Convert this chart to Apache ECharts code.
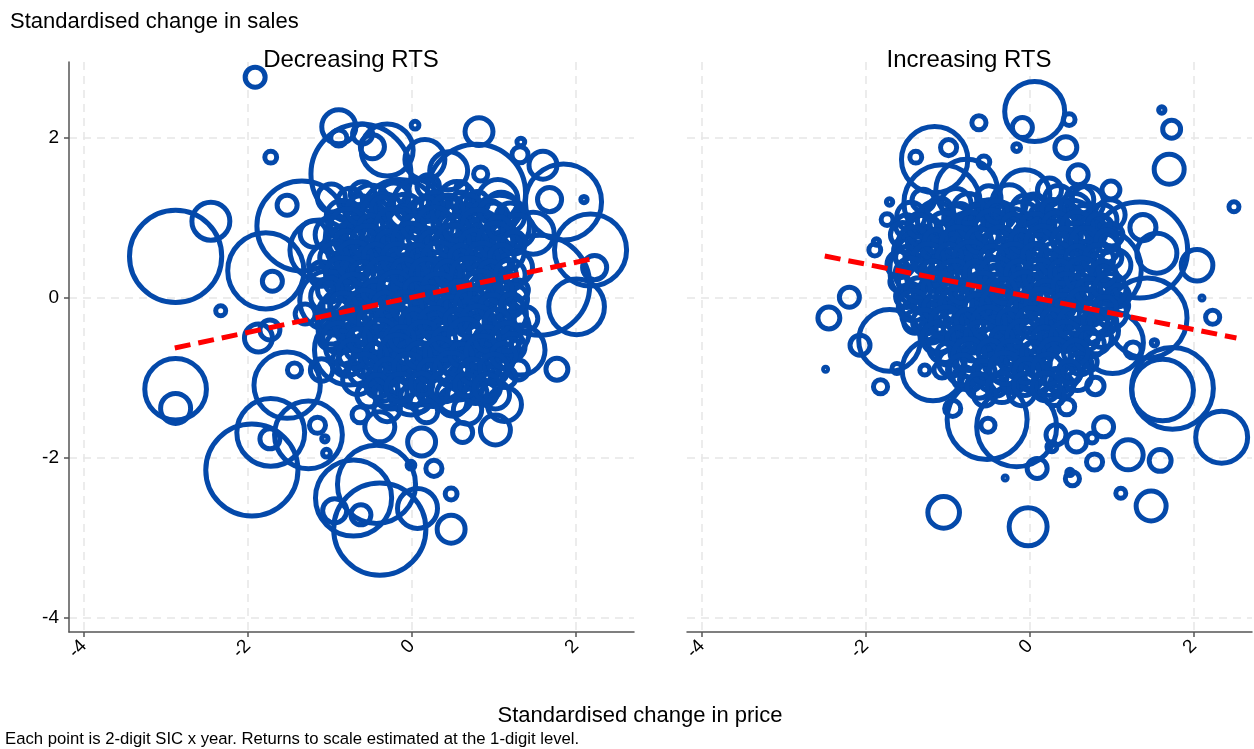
<!DOCTYPE html>
<html><head><meta charset="utf-8">
<script src="https://cdn.jsdelivr.net/npm/echarts@6/dist/echarts.min.js"></script>
<style>html,body{margin:0;padding:0;background:#fff}#c{width:1254px;height:749px}</style>
</head><body><div id="c"></div>
<script>
// tick values shared by both axes
const tickValues = [-4, -2, 0, 2];
const panelTitles = ['Decreasing RTS', 'Increasing RTS'];
const yTitle = 'Standardised change in sales';
const xTitle = 'Standardised change in price';
const footnote = 'Each point is 2-digit SIC x year. Returns to scale estimated at the 1-digit level.';

// [price change, sales change, weight] - Decreasing RTS industries
const decreasing = [
[-1.91,2.76,4],[-1.72,1.76,1.4],[-2.45,0.96,14.4],[-2.88,0.52,85],[-2.33,-0.16,1],
[-2.88,-1.14,38],[-2.88,-1.38,9],[-1.95,-2.15,85],[-1.72,-1.68,46],[-1.26,-1.71,46],
[-1.52,-1.09,44],[-1.73,-1.76,4],[-1.15,-1.59,2.6],[-1.06,-1.76,0.4],[-1.04,-1.94,0.6],
[-0.71,-2.5,58],[-0.39,-2.89,85],[-0.43,-2.33,61],[-0.94,-2.66,5.8],[-0.62,-2.71,4],
[0.07,-2.63,16],[0.48,-2.89,7.8],[0.48,-2.45,1.4],[0.27,-2.13,2.6],[-0.01,-2.09,0.6],
[0.12,-1.8,7.8],[-0.39,-1.61,9],[-0.63,-1.46,2.6],[0.62,-1.68,4],[1.02,-1.65,9],
[1.13,-1.33,11.6],[1.77,-0.89,4.8],[1.39,-0.26,5.8],[2.01,-0.11,31],[-0.34,-1.11,7.8],
[-0.01,-1.2,17.6],[-1.43,-0.9,2],[-1.87,-0.5,7.8],[-1.73,-0.4,4],[-0.89,2.14,11.6],
[-0.89,2.0,2.6],[-0.6,2.05,4],[-0.48,1.89,5.8],[-0.3,1.85,27],[0.04,2.16,0.6],
[0.16,1.73,16],[0.82,2.08,7.8],[1.33,1.95,0.6],[1.32,1.79,2.6],[-1.78,0.34,58],
[-1.34,0.9,81],[-0.62,1.55,100],[0.79,1.31,96],[1.85,1.2,58],[2.18,0.6,52],
[1.68,1.23,5.8],[2.1,1.23,0.4],[0.61,1.38,1.4],[0.84,1.55,2],[0.59,1.08,0.4],
[2.23,0.38,5.8],[-1.7,0.21,4],[-1.52,1.16,4],[-0.98,1.25,7.8],[0.45,1.59,14.4],
[1.09,1.11,11.6],[1.48,0.81,17.6],[1.6,1.66,7.8],[1.07,0.91,36],[1.56,0.16,100],
[0.71,-0.15,81],[1.07,-0.4,36],[1.32,-0.65,25],[0.52,-0.78,64],[0.1,-0.9,49],
[-0.76,-0.65,49],[-1.0,-0.03,36],[-1.12,0.6,36],[-0.63,0.73,49],[-0.15,0.98,64],
[0.34,0.6,81],[-0.27,0.1,81],[0.22,-0.28,64],[-0.39,-0.4,36],[0.59,0.23,36],
[0.1,0.23,25],
[-0.9,0.9,4],[-0.7,0.5,6],[-0.5,1.1,3],[-0.3,0.7,9],[-0.1,0.4,5],[0.1,0.9,7],
[0.3,1.1,4],[0.5,0.7,10],[0.7,0.9,3],[0.9,0.5,6],[1.1,0.3,8],[1.2,0.7,4],
[-1.1,0.3,6],[-0.9,-0.1,9],[-0.7,0.1,3],[-0.5,-0.3,7],[-0.3,0.2,4],[-0.1,-0.1,12],
[0.1,0.2,5],[0.3,-0.1,8],[0.5,0.3,3],[0.7,-0.3,9],[0.9,0.0,5],[1.1,-0.2,6],
[1.3,0.1,4],[-1.0,-0.5,5],[-0.8,-0.8,8],[-0.6,-0.6,4],[-0.4,-0.9,10],[-0.2,-0.6,3],
[0.0,-0.8,6],[0.2,-0.5,9],[0.4,-0.7,4],[0.6,-1.0,7],[0.8,-0.7,5],[1.0,-0.9,8],
[1.2,-0.6,3],[-0.6,1.3,6],[-0.2,1.3,8],[0.2,1.4,5],[0.6,1.2,4],[1.0,1.0,9],
[-1.2,0.8,7],[-1.3,-0.2,4],[-1.1,-0.9,5],[-0.3,-1.2,6],[0.1,-1.3,4],[0.5,-1.3,8],
[0.9,-1.2,5],[1.3,-0.9,4],[-0.8,0.7,12],[0.0,0.6,15],[0.6,-0.1,14],[-0.4,-0.1,16],
[0.2,-0.3,18],[0.8,0.4,16],[-0.6,0.3,20],[0.4,0.5,20],[0.0,0.0,25],[-0.2,-0.4,20]
];
// the dense cloud in the middle of the Decreasing RTS panel
const decreasingCore = [
[-0.75,1.22,6],[-0.5,1.18,14],[-0.22,1.25,9],[0.05,1.2,20],[0.28,1.16,7],[0.55,1.24,12],[0.8,1.19,5],[1.05,1.23,16],
[-0.85,1.02,10],[-0.6,0.98,4],[-0.35,1.04,18],[-0.1,0.97,8],[0.15,1.03,12],[0.42,0.96,22],[0.66,1.02,6],[0.92,0.99,13],[1.2,1.01,8],
[-0.95,0.79,14],[-0.68,0.83,7],[-0.42,0.77,11],[-0.18,0.82,24],[0.08,0.78,5],[0.33,0.81,15],[0.58,0.76,9],[0.83,0.82,19],[1.12,0.78,6],[1.3,0.84,10],
[-0.88,0.58,6],[-0.62,0.62,16],[-0.38,0.57,5],[-0.12,0.61,11],[0.14,0.56,26],[0.4,0.63,8],[0.64,0.58,14],[0.9,0.61,4],[1.16,0.57,12],
[-1.0,0.42,18],[-0.74,0.38,9],[-0.48,0.43,13],[-0.24,0.37,6],[0.02,0.41,17],[0.27,0.38,10],[0.52,0.44,4],[0.77,0.39,21],[1.03,0.42,7],[1.27,0.38,11],
[-0.92,0.19,5],[-0.66,0.22,20],[-0.4,0.18,8],[-0.15,0.23,14],[0.12,0.17,6],[0.37,0.21,19],[0.62,0.18,9],[0.88,0.22,12],[1.14,0.19,5],
[-1.05,0.02,9],[-0.78,-0.02,13],[-0.52,0.03,5],[-0.27,-0.01,22],[0.0,0.03,8],[0.24,-0.02,12],[0.49,0.01,16],[0.75,-0.03,6],[1.0,0.02,18],[1.24,-0.01,8],
[-0.9,-0.21,17],[-0.64,-0.18,6],[-0.38,-0.22,10],[-0.12,-0.17,15],[0.13,-0.23,4],[0.38,-0.19,20],[0.64,-0.22,8],[0.9,-0.18,11],[1.17,-0.21,14],
[-0.98,-0.41,7],[-0.72,-0.38,12],[-0.46,-0.43,19],[-0.2,-0.39,5],[0.05,-0.42,13],[0.31,-0.37,8],[0.57,-0.42,17],[0.83,-0.38,6],[1.09,-0.41,10],
[-0.85,-0.62,11],[-0.58,-0.58,16],[-0.32,-0.61,7],[-0.06,-0.57,21],[0.2,-0.62,9],[0.46,-0.59,13],[0.72,-0.63,5],[0.98,-0.58,15],[1.22,-0.61,7],
[-0.76,-0.81,6],[-0.5,-0.78,14],[-0.24,-0.83,9],[0.02,-0.79,17],[0.28,-0.82,5],[0.54,-0.77,12],[0.8,-0.82,19],[1.06,-0.79,8],
[-0.66,-1.02,9],[-0.4,-0.98,5],[-0.14,-1.03,13],[0.12,-0.97,7],[0.38,-1.02,16],[0.64,-0.98,6],[0.9,-1.03,11],[1.15,-0.99,4],
[-0.52,-1.21,6],[-0.26,-1.18,11],[0.0,-1.23,5],[0.26,-1.17,9],[0.52,-1.22,13],[0.78,-1.18,5],[1.02,-1.21,8],
[-0.3,-1.38,7],[0.18,-1.42,5],[0.68,-1.4,8],
[-0.62,1.1,8],[-0.36,1.12,5],[-0.08,1.08,12],[0.18,1.11,6],[0.44,1.09,10],[0.7,1.12,7],[0.96,1.08,5],
[-0.78,0.9,12],[-0.5,0.88,6],[-0.24,0.92,10],[0.02,0.89,5],[0.28,0.91,13],[0.54,0.87,6],[0.8,0.92,9],[1.06,0.88,5],
[-0.8,0.7,5],[-0.54,0.71,10],[-0.28,0.68,6],[-0.02,0.72,12],[0.24,0.69,5],[0.5,0.71,11],[0.76,0.68,7],[1.02,0.72,12],[1.25,0.69,5],
[-0.95,0.5,8],[-0.7,0.48,13],[-0.44,0.52,6],[-0.18,0.49,9],[0.08,0.51,6],[0.34,0.48,12],[0.6,0.52,5],[0.86,0.49,10],[1.1,0.51,6],
[-0.85,0.3,11],[-0.6,0.31,5],[-0.34,0.28,12],[-0.08,0.32,7],[0.18,0.29,10],[0.44,0.31,6],[0.7,0.28,13],[0.96,0.32,5],[1.2,0.29,9],
[-1.0,0.1,6],[-0.72,0.11,9],[-0.46,0.08,5],[-0.2,0.12,11],[0.06,0.09,6],[0.32,0.11,10],[0.58,0.08,5],[0.84,0.12,12],[1.08,0.09,6],
[-0.84,-0.1,7],[-0.58,-0.12,12],[-0.32,-0.08,6],[-0.06,-0.11,9],[0.2,-0.09,13],[0.46,-0.12,5],[0.72,-0.08,10],[0.98,-0.11,6],[1.22,-0.09,5],
[-1.02,-0.3,5],[-0.76,-0.31,10],[-0.5,-0.28,6],[-0.24,-0.32,12],[0.02,-0.29,6],[0.28,-0.31,9],[0.54,-0.28,5],[0.8,-0.32,12],[1.04,-0.29,6],
[-0.9,-0.5,9],[-0.64,-0.52,5],[-0.38,-0.48,11],[-0.12,-0.51,6],[0.14,-0.49,10],[0.4,-0.52,5],[0.66,-0.48,12],[0.92,-0.51,6],[1.16,-0.49,8],
[-0.72,-0.7,8],[-0.44,-0.71,5],[-0.18,-0.68,12],[0.08,-0.72,6],[0.34,-0.69,9],[0.6,-0.71,5],[0.86,-0.68,11],[1.12,-0.72,6],
[-0.58,-0.9,10],[-0.3,-0.92,6],[-0.04,-0.88,9],[0.22,-0.91,5],[0.48,-0.89,11],[0.74,-0.92,6],[1.0,-0.88,8],
[-0.42,-1.1,5],[-0.14,-1.12,8],[0.12,-1.08,5],[0.4,-1.11,9],[0.66,-1.09,5],[0.92,-1.12,7]
];

// [price change, sales change, weight] - Increasing RTS industries
const increasing = [
[0.06,2.33,36],[-0.09,2.13,4],[-0.16,1.88,0.6],[0.48,2.23,1.4],[0.44,1.88,4.8],
[-0.62,2.19,2],[1.61,2.35,0.4],[1.73,2.11,3.2],[1.7,1.61,9],[2.49,1.14,1],
[-1.16,1.73,44],[-1.39,1.76,1.4],[-0.99,1.88,2.6],[-0.56,1.7,1.4],[-1.07,1.19,58],
[-0.77,1.35,38],[-0.06,1.29,25],[0.59,1.54,4],[0.99,1.35,3.2],[-0.71,1.08,1],
[-1.32,0.88,9],[-1.74,0.98,1.4],[-1.71,1.2,0.4],[1.38,0.88,6.8],[2.04,0.41,10],
[2.1,0.0,0.16],[1.55,0.56,16],[1.34,0.6,92],[-2.2,0.01,4],[-2.45,-0.25,4.8],
[-1.89,0.6,1.4],[-1.87,0.7,0.4],[-2.49,-0.89,0.16],[-2.07,-0.59,4],[-1.82,-1.11,2],
[-1.71,-0.53,38],[-1.62,-0.88,1],[-1.18,-0.9,38],[-1.28,-0.9,1],[-1.07,-0.9,2.6],
[-0.94,-1.38,2.6],[-0.51,-1.59,2],[-0.52,-1.52,64],[-0.16,-1.61,64],[0.09,-2.13,4],
[-0.3,-2.25,0.16],[0.45,-1.36,2.6],[0.52,-0.96,2.6],[0.32,-1.71,4],[0.27,-1.86,1],
[0.57,-1.8,4],[0.76,-1.75,1],[0.9,-1.61,4],[0.79,-2.05,2.6],[0.52,-2.26,2],
[0.49,-2.18,0.4],[1.2,-1.96,9],[1.59,-2.03,4.8],[1.11,-2.44,1],[1.48,-2.6,9],
[-1.05,-2.68,10],[-0.02,-2.86,14.4],[1.62,-1.15,38],[1.74,-1.13,67],[2.34,-1.74,27],
[2.23,-0.24,2],[1.52,-0.56,0.4],[1.26,-0.65,2.6],[1.43,-0.25,64],[1.01,-0.56,38],
[-0.37,0.48,81],[0.24,0.6,64],[-0.85,-0.03,64],[-0.12,-0.28,81],[0.61,-0.15,49],
[0.49,0.85,36],[-0.49,0.85,36],[-1.22,0.35,64],[0.24,-0.78,49],[-0.61,-0.65,36],
[0.85,0.35,70],[0.98,1.04,9],[0.24,1.35,5.8],[0.61,1.23,7.8],
[-1.4,0.5,4],[-1.2,0.1,6],[-1.0,0.6,3],[-0.8,0.3,8],[-0.6,0.9,5],[-0.4,0.2,9],
[-0.2,0.7,4],[0.0,0.4,7],[0.2,0.9,3],[0.4,0.3,10],[0.6,0.7,5],[0.8,0.1,6],
[1.0,0.5,4],[-1.4,-0.3,5],[-1.1,-0.5,8],[-0.9,-0.2,4],[-0.7,-0.6,9],[-0.5,-0.1,5],
[-0.3,-0.6,7],[-0.1,-0.2,4],[0.1,-0.7,8],[0.3,-0.2,5],[0.5,-0.5,6],[0.7,-0.8,4],
[0.9,-0.3,7],[1.1,-0.1,3],[-0.9,1.0,6],[-0.5,1.1,4],[0.1,1.1,7],[0.5,1.0,5],
[0.9,0.9,3],[-1.5,0.9,5],[-1.6,0.2,3],[-0.8,-1.0,5],[-0.4,-1.1,4],[0.0,-1.0,6],
[0.4,-1.1,5],[0.8,-1.1,3],[-0.7,0.0,12],[0.2,0.1,14],[-0.3,0.4,16],[0.6,0.4,12],
[-1.0,0.3,14],[0.0,-0.5,16],[-0.5,-0.4,12],[0.5,-0.3,14],[-0.2,0.9,12],[-1.3,0.7,10],
[0.8,-0.5,10]
];
// the dense cloud in the middle of the Increasing RTS panel
const increasingCore = [
[-1.3,1.22,5],[-0.9,1.18,9],[-0.5,1.25,6],[-0.25,1.2,12],[0.05,1.16,5],[0.35,1.23,8],[0.7,1.19,11],
[-1.45,1.02,8],[-1.15,0.98,13],[-0.85,1.04,5],[-0.6,0.97,10],[-0.35,1.03,7],[-0.1,0.96,15],[0.15,1.02,6],[0.4,0.99,12],[0.65,1.03,4],[0.88,0.98,9],
[-1.55,0.79,6],[-1.28,0.83,11],[-1.02,0.77,7],[-0.76,0.82,16],[-0.52,0.78,5],[-0.27,0.81,12],[-0.02,0.76,8],[0.23,0.82,14],[0.48,0.78,6],[0.74,0.83,10],[1.0,0.79,5],
[-1.45,0.58,12],[-1.18,0.62,5],[-0.92,0.57,14],[-0.66,0.61,7],[-0.4,0.56,18],[-0.14,0.63,6],[0.12,0.58,11],[0.38,0.61,16],[0.64,0.57,5],[0.9,0.62,9],
[-1.58,0.42,7],[-1.3,0.38,14],[-1.04,0.43,6],[-0.78,0.37,10],[-0.52,0.41,15],[-0.26,0.38,5],[0.0,0.44,12],[0.26,0.39,7],[0.52,0.42,17],[0.78,0.38,6],[1.04,0.41,10],
[-1.42,0.19,9],[-1.16,0.22,5],[-0.9,0.18,12],[-0.64,0.23,8],[-0.38,0.17,16],[-0.12,0.21,6],[0.14,0.18,13],[0.4,0.22,5],[0.66,0.19,11],[0.92,0.23,7],
[-1.5,0.02,5],[-1.24,-0.02,10],[-0.98,0.03,6],[-0.72,-0.01,15],[-0.46,0.03,9],[-0.2,-0.02,18],[0.06,0.01,6],[0.32,-0.03,12],[0.58,0.02,7],[0.84,-0.01,14],[1.08,0.03,5],
[-1.35,-0.21,12],[-1.08,-0.18,7],[-0.82,-0.22,13],[-0.56,-0.17,5],[-0.3,-0.23,11],[-0.04,-0.19,16],[0.22,-0.22,6],[0.48,-0.18,10],[0.74,-0.21,5],[1.0,-0.19,9],
[-1.2,-0.41,6],[-0.94,-0.38,11],[-0.68,-0.43,17],[-0.42,-0.39,6],[-0.16,-0.42,12],[0.1,-0.37,8],[0.36,-0.42,14],[0.62,-0.38,5],[0.88,-0.41,11],
[-1.05,-0.62,9],[-0.8,-0.58,5],[-0.54,-0.61,13],[-0.28,-0.57,7],[-0.02,-0.62,15],[0.24,-0.59,5],[0.5,-0.63,10],[0.76,-0.58,6],
[-0.95,-0.81,7],[-0.68,-0.78,12],[-0.42,-0.83,5],[-0.16,-0.79,10],[0.1,-0.82,6],[0.36,-0.77,13],[0.62,-0.82,5],
[-0.72,-1.02,5],[-0.46,-0.98,9],[-0.2,-1.03,6],[0.06,-0.97,11],[0.32,-1.02,5],[0.58,-0.98,8],
[-0.55,-1.21,5],[-0.1,-1.18,7],[0.3,-1.22,4],
[-1.1,1.1,6],[-0.75,1.12,9],[-0.4,1.08,5],[-0.05,1.11,8],[0.28,1.09,5],[0.55,1.12,9],
[-1.35,0.9,5],[-1.05,0.88,9],[-0.72,0.92,6],[-0.46,0.89,11],[-0.2,0.91,5],[0.06,0.87,9],[0.32,0.92,6],[0.58,0.88,10],[0.84,0.91,5],
[-1.42,0.7,9],[-1.15,0.71,5],[-0.88,0.68,11],[-0.62,0.72,6],[-0.36,0.69,10],[-0.1,0.71,5],[0.16,0.68,12],[0.42,0.72,6],[0.68,0.69,9],[0.94,0.71,5],
[-1.5,0.5,5],[-1.24,0.48,10],[-0.98,0.52,6],[-0.72,0.49,12],[-0.46,0.51,5],[-0.2,0.48,10],[0.06,0.52,6],[0.32,0.49,11],[0.58,0.51,5],[0.84,0.48,9],
[-1.45,0.3,10],[-1.18,0.31,6],[-0.92,0.28,9],[-0.66,0.32,5],[-0.4,0.29,12],[-0.14,0.31,6],[0.12,0.28,10],[0.38,0.32,5],[0.64,0.29,11],[0.9,0.31,6],
[-1.36,0.1,6],[-1.1,0.11,11],[-0.84,0.08,5],[-0.58,0.12,10],[-0.32,0.09,6],[-0.06,0.11,12],[0.2,0.08,5],[0.46,0.12,9],[0.72,0.09,6],[0.98,0.11,10],
[-1.42,-0.1,9],[-1.16,-0.12,5],[-0.9,-0.08,10],[-0.64,-0.11,6],[-0.38,-0.09,12],[-0.12,-0.12,5],[0.14,-0.08,10],[0.4,-0.11,6],[0.66,-0.09,11],[0.92,-0.12,5],
[-1.28,-0.3,6],[-1.02,-0.31,10],[-0.76,-0.28,5],[-0.5,-0.32,11],[-0.24,-0.29,6],[0.02,-0.31,9],[0.28,-0.28,5],[0.54,-0.32,10],[0.8,-0.29,6],
[-1.12,-0.5,10],[-0.86,-0.52,6],[-0.6,-0.48,9],[-0.34,-0.51,5],[-0.08,-0.49,11],[0.18,-0.52,6],[0.44,-0.48,9],[0.7,-0.51,5],
[-1.0,-0.7,5],[-0.74,-0.71,10],[-0.48,-0.68,6],[-0.22,-0.72,9],[0.04,-0.69,5],[0.3,-0.71,10],[0.56,-0.68,6],
[-0.82,-0.9,9],[-0.56,-0.92,5],[-0.3,-0.88,10],[-0.04,-0.91,6],[0.22,-0.89,9],[0.48,-0.92,5],
[-0.62,-1.1,6],[-0.34,-1.12,9],[-0.06,-1.08,5],[0.2,-1.11,8]
];

// fitted lines, endpoints [x, y]
const fitDecreasing = [[-2.89,-0.625],[2.2,0.49]];
const fitIncreasing = [[-2.5,0.525],[2.52,-0.5]];

const xRange = [-4.18, 2.71];
const yRange = [-4.175, 2.95];

const BLUE = '#0449aa';
const FONT = '"Liberation Sans", Arial, sans-serif';
const chart = echarts.init(document.getElementById('c'), null, {renderer: 'canvas'});

const gridLine = {show: true, lineStyle: {color: '#e6e6e6', width: 1.5, type: [8, 6]}};
function xAxis(i) {
  return {
    type: 'value', gridIndex: i, min: xRange[0], max: xRange[1],
    axisLine: {show: true, onZero: false, lineStyle: {color: '#555', width: 1.5}},
    axisTick: {show: true, length: 5, customValues: tickValues, lineStyle: {color: '#555', width: 1.5}},
    axisLabel: {show: true, rotate: 45, margin: 11, customValues: tickValues, color: '#000', fontSize: 19, fontFamily: FONT},
    splitLine: gridLine
  };
}
function yAxis(i) {
  const show = i === 0;
  return {
    type: 'value', gridIndex: i, min: yRange[0], max: yRange[1],
    axisLine: {show: show, onZero: false, lineStyle: {color: '#555', width: 1.5}},
    axisTick: {show: show, length: 5, customValues: tickValues, lineStyle: {color: '#555', width: 1.5}},
    axisLabel: {show: show, margin: 10, customValues: tickValues, color: '#000', fontSize: 19, fontFamily: FONT},
    splitLine: gridLine
  };
}
function scatter(i, data) {
  return {
    type: 'scatter', xAxisIndex: i, yAxisIndex: i, data: data,
    symbol: 'circle', large: false,
    symbolSize: d => 10 * Math.sqrt(d[2]),
    itemStyle: {color: 'rgba(0,0,0,0)', borderColor: BLUE, borderWidth: 5, opacity: 1},
    emphasis: {disabled: true}, silent: true, z: 2
  };
}
function fit(i, data) {
  return {
    type: 'line', xAxisIndex: i, yAxisIndex: i, data: data, symbol: 'none',
    lineStyle: {color: '#ff0000', width: 5, type: [16, 8]}, silent: true, z: 5
  };
}
chart.setOption({
  animation: false,
  backgroundColor: '#fff',
  grid: [
    {left: 69, top: 62, width: 565, height: 570},
    {left: 687, top: 62, width: 565, height: 570}
  ],
  xAxis: [xAxis(0), xAxis(1)],
  yAxis: [yAxis(0), yAxis(1)],
  series: [
    scatter(0, decreasing), scatter(0, decreasingCore),
    scatter(1, increasing), scatter(1, increasingCore),
    fit(0, fitDecreasing), fit(1, fitIncreasing)
  ],
  graphic: [
    {type: 'text', x: 10, y: 22, style: {text: yTitle, font: '22px ' + FONT, fill: '#000', verticalAlign: 'middle'}},
    {type: 'text', x: 351, y: 60, style: {text: panelTitles[0], font: '24px ' + FONT, fill: '#000', align: 'center', verticalAlign: 'middle'}, z: 10},
    {type: 'text', x: 969, y: 60, style: {text: panelTitles[1], font: '24px ' + FONT, fill: '#000', align: 'center', verticalAlign: 'middle'}, z: 10},
    {type: 'text', x: 640, y: 716, style: {text: xTitle, font: '22px ' + FONT, fill: '#000', align: 'center', verticalAlign: 'middle'}},
    {type: 'text', x: 5, y: 739, style: {text: footnote, font: '16.7px ' + FONT, fill: '#000', align: 'left', verticalAlign: 'middle'}}
  ]
});
</script>
</body></html>
